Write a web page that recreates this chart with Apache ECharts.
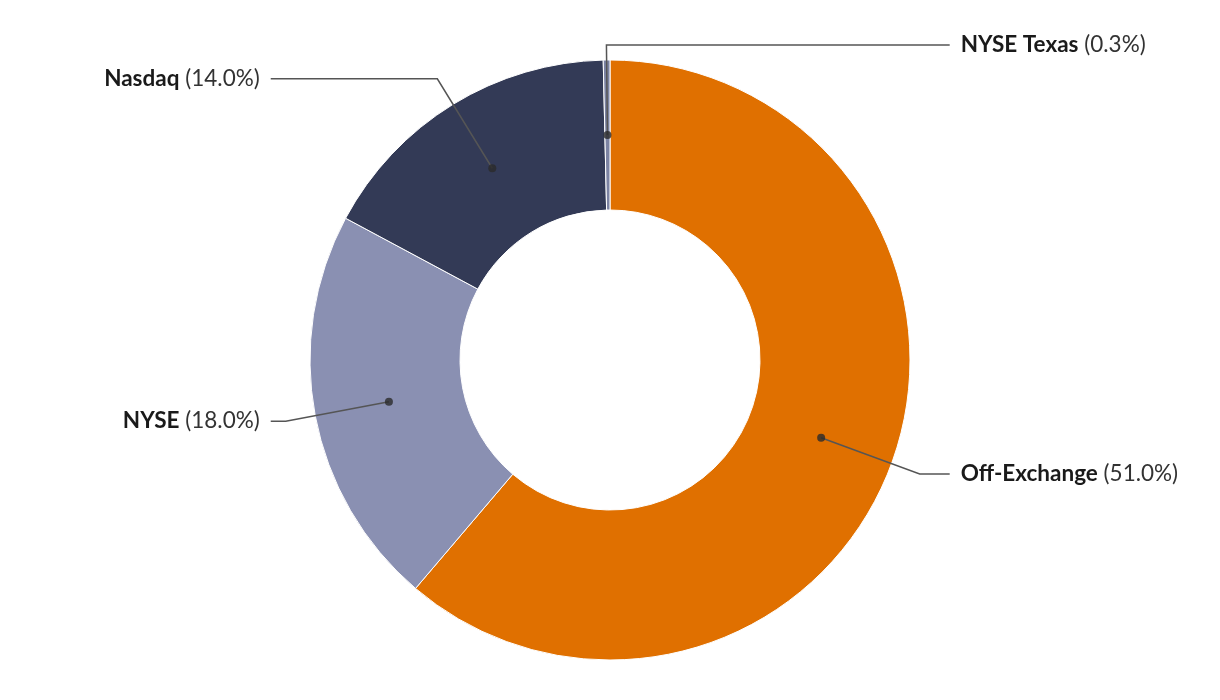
<!DOCTYPE html>
<html>
<head>
<meta charset="utf-8">
<script src="https://cdn.jsdelivr.net/npm/echarts@6/dist/echarts.min.js"></script>
<style>
html,body{margin:0;padding:0;background:#fff;}
#chart{width:1220px;height:700px;}
</style>
</head>
<body>
<div id="chart"></div>
<script>
// ---- data ----
const categories = ['Off-Exchange', 'NYSE', 'Nasdaq', 'NYSE Texas'];
const values = [51.0, 18.0, 14.0, 0.3];

// ---- styling (kept separate from data) ----
const colors = ['#E07000', '#8A90B2', '#333A56', '#7C83A3'];
const lineLen = [105, 105, 105, 90];
const lineLen2 = [30, 15, 15, 15];
const forceRight = [false, false, false, true];
const FONT = 'Lato';
const FS = 22.5;
const GAP = 11;

const total = values.reduce((a, b) => a + b, 0);
let acc = 0;
const mids = values.map(v => { const m = acc + v / 2; acc += v; return m; });

const chart = echarts.init(document.getElementById('chart'), null, { renderer: 'canvas' });

const ringData = categories.map((c, i) => ({
  name: c, value: values[i], itemStyle: { color: colors[i] }
}));
const labelData = categories.map((c, i) => ({
  name: c, value: values[i],
  labelLine: { length: lineLen[i], length2: lineLen2[i] }
}));

let rightEnd = null;
function layoutLabel(params) {
  const pts = params.labelLinePoints;
  if (!pts) return {};
  const isRight = pts[2][0] >= pts[1][0];
  if (isRight) rightEnd = rightEnd == null ? pts[2][0] : Math.max(rightEnd, pts[2][0]);
  if (forceRight[params.dataIndex] && rightEnd != null) {
    const y = pts[1][1];
    return {
      x: rightEnd + GAP,
      y: y,
      align: 'left',
      verticalAlign: 'middle',
      labelLinePoints: [pts[0].slice(), pts[1].slice(), [rightEnd, y]]
    };
  }
  return {};
}

chart.setOption({
  backgroundColor: '#ffffff',
  animation: false,
  polar: { center: ['50%', 360], radius: 300 },
  angleAxis: { type: 'value', min: 0, max: total, startAngle: 90, clockwise: true, show: false },
  radiusAxis: { type: 'value', min: 0, max: 1, show: false },
  series: [
    {
      type: 'pie',
      center: ['50%', 360],
      radius: [150, 300],
      startAngle: 90,
      clockwise: true,
      label: { show: false },
      labelLine: { show: false },
      itemStyle: { borderColor: '#ffffff', borderWidth: 1 },
      emphasis: { disabled: true },
      data: ringData
    },
    {
      type: 'pie',
      center: ['50%', 360],
      radius: [0, 225],
      startAngle: 90,
      clockwise: true,
      silent: true,
      z: 3,
      itemStyle: { color: 'rgba(0,0,0,0)', borderWidth: 0 },
      emphasis: { disabled: true },
      label: {
        show: true,
        position: 'outer',
        alignTo: 'labelLine',
        distanceToLabelLine: GAP,
        formatter: p => '{b|' + p.name + '}{p| (' + p.value.toFixed(1) + '%)}',
        rich: {
          b: { fontFamily: FONT, fontWeight: 'bold', fontSize: FS, color: '#1a1a1a' },
          p: { fontFamily: FONT, fontSize: FS, color: '#333333' }
        }
      },
      labelLayout: layoutLabel,
      labelLine: { show: true, lineStyle: { color: '#555555', width: 1.5 } },
      data: labelData
    },
    {
      type: 'scatter',
      coordinateSystem: 'polar',
      symbol: 'circle',
      symbolSize: 8,
      z: 5,
      silent: true,
      itemStyle: { color: '#2b2b2b' },
      data: mids.map(m => [0.75, m])
    }
  ]
});
</script>
</body>
</html>
